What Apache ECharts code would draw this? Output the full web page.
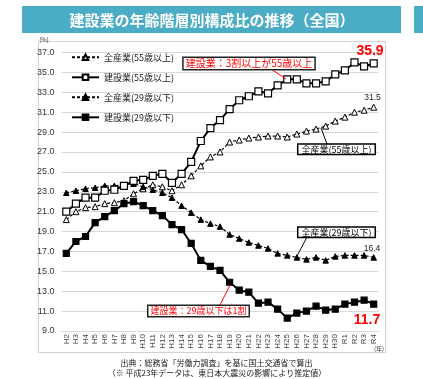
<!DOCTYPE html>
<html><head><meta charset="utf-8">
<script src="https://cdn.jsdelivr.net/npm/echarts/dist/echarts.min.js"></script>
<style>html,body{margin:0;padding:0;background:#fff}#c{width:423px;height:379px}</style>
</head><body><div id="c"></div>
<script>
const categories = ['H2','H3','H4','H5','H6','H7','H8','H9','H10','H11','H12','H13','H14','H15','H16','H17','H18','H19','H20','H21','H22','H23','H24','H25','H26','H27','H28','H29','H30','R1','R2','R3','R4'];
const all55 = [20.2,21.0,21.4,21.5,21.8,21.9,22.1,22.8,23.3,23.7,23.5,23.1,23.7,24.6,25.6,26.5,27.0,28.0,28.2,28.4,28.5,28.6,28.6,28.5,28.8,29.1,29.3,29.6,30.1,30.5,31.0,31.2,31.5];
const con55 = [21.0,21.8,22.4,22.4,23.1,23.2,23.6,24.1,24.2,24.6,24.8,23.9,24.8,26.0,28.1,29.4,30.2,31.3,32.2,32.6,33.1,32.9,33.7,34.3,34.3,33.9,33.9,34.1,34.8,35.2,36.0,35.6,35.9];
const all29 = [22.9,23.1,23.3,23.4,23.6,23.6,23.7,23.8,23.5,23.2,22.9,22.4,21.6,20.9,20.2,19.8,19.5,18.7,18.3,17.9,17.6,17.3,16.8,16.6,16.4,16.2,16.4,16.1,16.5,16.6,16.6,16.6,16.4];
const con29 = [16.8,18.0,18.5,19.9,20.5,21.1,21.8,22.0,21.6,21.1,20.6,19.7,19.2,17.8,16.1,15.5,15.1,13.9,13.1,12.9,11.8,11.9,11.2,10.3,10.8,11.0,11.5,11.1,11.2,11.7,11.9,12.1,11.7];
const seriesNames = ['全産業(55歳以上)','建設業(55歳以上)','全産業(29歳以下)','建設業(29歳以下)'];
const yTicks = {min: 9, max: 37, interval: 2};

const JP = '"Noto Sans CJK JP", sans-serif';
const chart = echarts.init(document.getElementById('c'), null, {renderer: 'canvas'});

function dashed(name, data, filled, size) {
  return {
    name, type: 'line', data, symbol: 'triangle', symbolSize: size,
    lineStyle: {color: '#000', width: 1.2, type: [3, 2]},
    itemStyle: {color: filled ? '#000' : '#fff', borderColor: '#000', borderWidth: 1},
    z: 2, animation: false
  };
}
function solid(name, data, filled, size) {
  return {
    name, type: 'line', data, symbol: 'rect', symbolSize: size,
    lineStyle: {color: '#000', width: 2},
    itemStyle: {color: filled ? '#000' : '#fff', borderColor: '#000', borderWidth: 1.2},
    z: 3, animation: false
  };
}

chart.setOption({
  animation: false,
  backgroundColor: '#fff',
  grid: {left: 61.5, right: 44.5, top: 52.5, bottom: 48, containLabel: false, outerBoundsMode: 'none'},
  legend: {
    orient: 'vertical', left: 66, top: 47.3, itemWidth: 27, itemHeight: 7, itemGap: 10,
    textStyle: {fontFamily: JP, fontSize: 9, color: '#222', lineHeight: 10},
    data: seriesNames, selectedMode: false, backgroundColor: 'transparent'
  },
  xAxis: {
    type: 'category', data: categories, boundaryGap: true,
    axisLine: {show: true, lineStyle: {color: '#d9d9d9'}},
    axisTick: {show: false},
    axisLabel: {rotate: 90, interval: 0, fontSize: 8, color: '#444', fontFamily: '"Liberation Sans", Arial, sans-serif', margin: 3}
  },
  yAxis: {
    type: 'value', min: yTicks.min, max: yTicks.max, interval: yTicks.interval,
    axisLine: {show: false}, axisTick: {show: false},
    splitLine: {lineStyle: {color: '#d9d9d9', width: 1}},
    axisLabel: {formatter: v => v.toFixed(1), fontSize: 9, color: '#333', margin: 7, fontFamily: '"Liberation Sans", Arial, sans-serif'}
  },
  series: [
    dashed(seriesNames[0], all55, false, 6),
    solid(seriesNames[1], con55, false, 7),
    dashed(seriesNames[2], all29, true, 5.5),
    solid(seriesNames[3], con29, true, 6)
  ],
  graphic: [
    {type: 'rect', shape: {x: 22, y: 6, width: 379, height: 27}, style: {fill: '#4bacc6'}, z: 0},
    {type: 'rect', shape: {x: 414, y: 6, width: 9, height: 27}, style: {fill: '#4bacc6'}, z: 0},
    {type: 'text', x: 212, y: 20.5, style: {text: '建設業の年齢階層別構成比の推移（全国）', fill: '#fff', font: 'bold 15px ' + JP, align: 'center', verticalAlign: 'middle'}},
    {type: 'rect', shape: {x: 38.5, y: 41.5, width: 347, height: 311}, style: {fill: 'none', stroke: '#d0d0d0', lineWidth: 1}, z: -1},
    {type: 'text', x: 44, y: 40, style: {text: '(%)', fill: '#333', font: '6px ' + JP, align: 'center', verticalAlign: 'middle'}},
    {type: 'text', x: 379, y: 348.5, style: {text: '(年)', fill: '#333', font: '6px ' + JP, align: 'center', verticalAlign: 'middle'}},
    // annotations
    {type: 'line', shape: {x1: 271, y1: 69, x2: 286, y2: 79}, style: {stroke: '#ff0000', lineWidth: 1}, z: 10},
    {type: 'text', x: 249, y: 63.5, z: 11, style: {text: '建設業：3割以上が55歳以上', fill: '#ff0000', font: '10px ' + JP, align: 'center', verticalAlign: 'middle', backgroundColor: '#fff', borderColor: '#222', borderWidth: 1.5, padding: [1, 2, 0, 2]}},
    {type: 'text', x: 370, y: 51.5, z: 11, style: {text: '35.9', fill: '#ff0000', font: 'bold 14px "Liberation Sans", Arial, sans-serif', align: 'center', verticalAlign: 'middle'}},
    {type: 'text', x: 372.5, y: 98, z: 11, style: {text: '31.5', fill: '#222', font: '8.5px "Liberation Sans", Arial, sans-serif', align: 'center', verticalAlign: 'middle'}},
    {type: 'line', shape: {x1: 327, y1: 144, x2: 321, y2: 128}, style: {stroke: '#000', lineWidth: 1}, z: 10},
    {type: 'text', x: 336.5, y: 149.3, z: 11, style: {text: '全産業(55歳以上)', fill: '#000', font: '9px ' + JP, align: 'center', verticalAlign: 'middle', backgroundColor: '#fff', borderColor: '#000', borderWidth: 1.5, padding: [0, 3, 0, 3]}},
    {type: 'line', shape: {x1: 307, y1: 237, x2: 297, y2: 256}, style: {stroke: '#000', lineWidth: 1}, z: 10},
    {type: 'text', x: 336.5, y: 232.3, z: 11, style: {text: '全産業(29歳以下)', fill: '#000', font: '9px ' + JP, align: 'center', verticalAlign: 'middle', backgroundColor: '#fff', borderColor: '#000', borderWidth: 1.5, padding: [0, 3, 0, 3]}},
    {type: 'text', x: 372, y: 249, z: 11, style: {text: '16.4', fill: '#222', font: '8.5px "Liberation Sans", Arial, sans-serif', align: 'center', verticalAlign: 'middle'}},
    {type: 'line', shape: {x1: 220, y1: 305, x2: 230, y2: 285}, style: {stroke: '#ff0000', lineWidth: 1}, z: 10},
    {type: 'text', x: 198.5, y: 311, z: 11, style: {text: '建設業：29歳以下は1割', fill: '#ff0000', font: '9px ' + JP, align: 'center', verticalAlign: 'middle', backgroundColor: '#fff', borderColor: '#222', borderWidth: 1.5, padding: [1, 2, 0, 2]}},
    {type: 'text', x: 367, y: 320.5, z: 11, style: {text: '11.7', fill: '#ff0000', font: 'bold 14px "Liberation Sans", Arial, sans-serif', align: 'center', verticalAlign: 'middle'}},
    // source
    {type: 'text', x: 216.5, y: 362.5, style: {text: '出典：総務省「労働力調査」を基に国土交通省で算出', fill: '#222', font: '8px ' + JP, align: 'center', verticalAlign: 'middle'}},
    {type: 'text', x: 217, y: 372.5, style: {text: '（※ 平成23年データは、東日本大震災の影響により推定値）', fill: '#222', font: '8px ' + JP, align: 'center', verticalAlign: 'middle'}}
  ]
});
</script></body></html>
